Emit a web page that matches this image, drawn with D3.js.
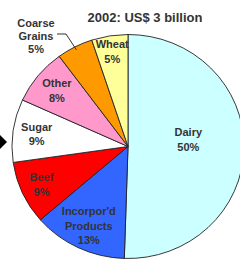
<!DOCTYPE html>
<html>
<head>
<meta charset="utf-8">
<script src="https://cdn.jsdelivr.net/npm/d3@7"></script>
<style>
  html, body { margin: 0; padding: 0; background: #ffffff; }
  svg { display: block; }
</style>
</head>
<body>
<svg id="chart" width="240" height="261"></svg>
<script>
// Chart data
const categories = ["Dairy", "Incorpor'd Products", "Beef", "Sugar", "Other", "Coarse Grains", "Wheat"];
const shares = [50, 13, 9, 9, 8, 5, 5];
const labelLines = [
    ["Dairy"],
    ["Incorpor'd", "Products"],
    ["Beef"],
    ["Sugar"],
    ["Other"],
    ["Coarse", "Grains"],
    ["Wheat"]
];
const title = "2002: US$ 3 billion";

// Layout / styles
const cx = 128, cy = 146.5;
const ry = 112, rx = 116;              // pie is drawn slightly wider than tall
const stretch = rx / ry;
const fontFamily = "'Liberation Sans', Arial, sans-serif";
const colors = {
    "Dairy": "#ccffff",
    "Incorpor'd Products": "#3366ff",
    "Beef": "#ff0000",
    "Sugar": "#ffffff",
    "Other": "#ff99cc",
    "Coarse Grains": "#ff9900",
    "Wheat": "#ffff99"
};
// label distance from centre (fraction of radius) and a small vertical nudge
const labelRadius = {
    "Dairy": 0.52,
    "Incorpor'd Products": 0.786,
    "Beef": 0.82,
    "Sugar": 0.795,
    "Other": 0.79,
    "Wheat": 0.86
};
const labelNudge = { "Dairy": -8 };

const data = categories.map((name, i) => ({ name: name, value: shares[i], lines: labelLines[i] }));

const svg = d3.select("#chart");

const pie = d3.pie().sort(null).value(d => d.value);
const arcs = pie(data);
const arc = d3.arc().innerRadius(0).outerRadius(ry);

// Slices
const pieGroup = svg.append("g")
    .attr("transform", `translate(${cx},${cy}) scale(${stretch},1)`);

pieGroup.selectAll("path")
    .data(arcs)
    .join("path")
    .attr("d", arc)
    .attr("fill", d => colors[d.data.name])
    .attr("stroke", "#222")
    .attr("stroke-width", 0.9)
    .attr("vector-effect", "non-scaling-stroke");

// Title
svg.append("text")
    .attr("x", 145)
    .attr("y", 22)
    .attr("text-anchor", "middle")
    .attr("font-family", fontFamily)
    .attr("font-weight", "bold")
    .attr("font-size", 13)
    .attr("fill", "#333")
    .text(title);

// Labels inside slices (y is the visual centre of the text block)
const lineHeight = 14.5;
arcs.forEach(d => {
    const name = d.data.name;
    if (name === "Coarse Grains") return;
    const lines = d.data.lines.concat([d.data.value + "%"]);
    const a = (d.startAngle + d.endAngle) / 2;
    const r = ry * labelRadius[name];
    const x = cx + Math.sin(a) * r * stretch;
    const y = cy - Math.cos(a) * r + (labelNudge[name] || 0);
    const top = y - (lines.length - 1) * lineHeight / 2 + 4;
    const t = svg.append("text")
        .attr("text-anchor", "middle")
        .attr("font-family", fontFamily)
        .attr("font-weight", "bold")
        .attr("font-size", 11)
        .attr("fill", "#333");
    lines.forEach((ln, i) => {
        t.append("tspan")
            .attr("x", x)
            .attr("y", top + i * lineHeight)
            .text(ln);
    });
});

// Coarse Grains label sits outside with a leader line
const cg = arcs.find(d => d.data.name === "Coarse Grains");
const cgAngle = (cg.startAngle + cg.endAngle) / 2;
const edgeX = cx + Math.sin(cgAngle) * ry * 0.97 * stretch;
const edgeY = cy - Math.cos(cgAngle) * ry * 0.97;
svg.append("polyline")
    .attr("points", `57,34 66,34 ${edgeX},${edgeY}`)
    .attr("fill", "none")
    .attr("stroke", "#333")
    .attr("stroke-width", 1);

const cgText = svg.append("text")
    .attr("text-anchor", "middle")
    .attr("font-family", fontFamily)
    .attr("font-weight", "bold")
    .attr("font-size", 11)
    .attr("fill", "#333");
cg.data.lines.concat([cg.data.value + "%"]).forEach((ln, i) => {
    cgText.append("tspan")
        .attr("x", 36)
        .attr("y", 27 + i * 13)
        .text(ln);
});

// Pointer arrow at the left edge
svg.append("path")
    .attr("d", "M0,135 L7,142 L0,149 Z")
    .attr("fill", "#000");
</script>
</body>
</html>
